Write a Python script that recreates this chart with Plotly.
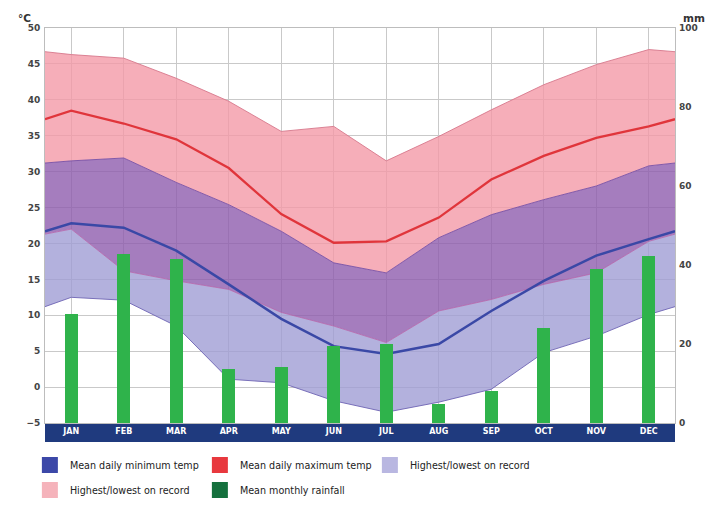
import plotly.graph_objects as go

# ---------------- data ----------------
months = ["JAN", "FEB", "MAR", "APR", "MAY", "JUN", "JUL", "AUG", "SEP", "OCT", "NOV", "DEC"]

max_record_high = [46.3, 45.8, 43.0, 39.8, 35.6, 36.3, 31.5, 34.9, 38.6, 42.1, 44.9, 47.0]
max_mean        = [38.5, 36.7, 34.5, 30.5, 24.1, 20.1, 20.3, 23.6, 28.9, 32.2, 34.7, 36.3]
max_record_low  = [22.0, 16.2, 14.8, 13.6, 10.4, 8.5, 6.2, 10.6, 12.2, 14.3, 15.9, 20.3]

min_record_high = [31.5, 31.9, 28.5, 25.4, 21.7, 17.3, 15.9, 20.8, 24.0, 26.1, 28.0, 30.8]
min_mean        = [22.8, 22.2, 19.0, 14.3, 9.5, 5.7, 4.6, 6.0, 10.6, 14.8, 18.3, 20.6]
min_record_low  = [12.5, 12.1, 8.5, 1.1, 0.6, -1.9, -3.5, -2.1, -0.3, 4.8, 7.1, 10.1]

rainfall_mm     = [27.7, 42.9, 41.4, 13.6, 14.1, 19.5, 20.0, 4.8, 8.2, 24.0, 38.9, 42.3]

# values read at the Dec/Jan boundary (left and right edges of the chart)
edge_max_record_high = 46.7
edge_max_mean = 37.3
edge_max_record_low = 21.3
edge_min_record_high = 31.2
edge_min_mean = 21.7
edge_min_record_low = 11.2

temp_ticks = list(range(-5, 51, 5))
rain_ticks = [0, 20, 40, 60, 80, 100]

legend_row1 = [("Mean daily minimum temp", "#3c48a8"),
               ("Mean daily maximum temp", "#e8383e"),
               ("Highest/lowest on record", "#b9b7e1")]
legend_row2 = [("Highest/lowest on record", "#f5b3bb"),
               ("Mean monthly rainfall", "#15703d")]

# ---------------- build ----------------
idx = list(range(len(months)))
x_ext = [idx[0] - 0.5] + idx + [idx[-1] + 0.5]


def ext(vals, edge):
    return [edge] + list(vals) + [edge]


FONT = "DejaVu Sans"
fig = go.Figure()

# stacked, non-overlapping band regions
fig.add_trace(go.Scatter(x=x_ext, y=ext(min_record_low, edge_min_record_low), mode="lines",
                         line=dict(color="rgba(110,100,180,0.9)", width=1),
                         showlegend=False, hoverinfo="skip"))
fig.add_trace(go.Scatter(x=x_ext, y=ext(max_record_low, edge_max_record_low), mode="lines",
                         fill="tonexty", fillcolor="rgba(160,158,212,0.80)",
                         line=dict(color="rgba(180,100,170,0.8)", width=1),
                         showlegend=False, hoverinfo="skip"))
fig.add_trace(go.Scatter(x=x_ext, y=ext(min_record_high, edge_min_record_high), mode="lines",
                         fill="tonexty", fillcolor="rgba(143,92,174,0.80)",
                         line=dict(color="rgba(120,80,165,0.9)", width=1),
                         showlegend=False, hoverinfo="skip"))
fig.add_trace(go.Scatter(x=x_ext, y=ext(max_record_high, edge_max_record_high), mode="lines",
                         fill="tonexty", fillcolor="rgba(244,154,167,0.80)",
                         line=dict(color="rgba(215,120,140,0.9)", width=1),
                         showlegend=False, hoverinfo="skip"))

# mean lines
fig.add_trace(go.Scatter(x=x_ext, y=ext(max_mean, edge_max_mean), mode="lines",
                         line=dict(color="#e0353b", width=2.3),
                         showlegend=False, hoverinfo="skip"))
fig.add_trace(go.Scatter(x=x_ext, y=ext(min_mean, edge_min_mean), mode="lines",
                         line=dict(color="#3a48a6", width=2.5),
                         showlegend=False, hoverinfo="skip"))

# rainfall bars
fig.add_trace(go.Bar(x=idx, y=rainfall_mm, yaxis="y2", width=0.24,
                     marker=dict(color="#2fb34b", line=dict(width=0)),
                     showlegend=False, hoverinfo="skip"))

# legend entries (two rows as two legends)
for lg, items in (("legend", legend_row1), ("legend2", legend_row2)):
    for name, col in items:
        fig.add_trace(go.Scatter(x=[None], y=[None], mode="markers", name=name, legend=lg,
                                 marker=dict(symbol="square", size=16, color=col,
                                             line=dict(width=0))))

legend_common = dict(orientation="h", xanchor="left", yanchor="top",
                     entrywidth=125, entrywidthmode="pixels", traceorder="normal",
                     font=dict(family=FONT, size=9.6, color="#222222"),
                     bgcolor="rgba(0,0,0,0)", itemclick=False, itemdoubleclick=False)

fig.update_layout(
    width=709, height=517,
    margin=dict(l=45, r=34, t=28, b=94),
    paper_bgcolor="white", plot_bgcolor="white",
    font=dict(family=FONT, color="#333333"),
    bargap=0,
    xaxis=dict(range=[-0.5, 11.5], tickvals=idx, ticktext=months,
               showgrid=True, gridcolor="#c9c9c9", gridwidth=1, zeroline=False,
               showline=True, mirror=True, linecolor="#bdbdbd",
               tickfont=dict(family=FONT, size=8, color="white", weight="bold"),
               ticks="", fixedrange=True),
    yaxis=dict(range=[-5, 50], tickvals=temp_ticks, showgrid=True,
               gridcolor="#c9c9c9", gridwidth=1, zeroline=False,
               showline=True, mirror=True, linecolor="#bdbdbd",
               tickfont=dict(family=FONT, size=9, color="#444444", weight="bold"),
               ticks="", ticklabelstandoff=2),
    yaxis2=dict(range=[0, 100], tickvals=rain_ticks, overlaying="y", side="right",
                showgrid=False, zeroline=False, showline=False,
                tickfont=dict(family=FONT, size=9, color="#444444", weight="bold"),
                ticks="", ticklabelstandoff=3),
    legend=dict(x=-0.024, y=-0.0696, **legend_common),
    legend2=dict(x=-0.024, y=-0.1329, **legend_common),
    shapes=[dict(type="rect", xref="paper", yref="paper", x0=0, x1=1, y0=-0.048, y1=0,
                 fillcolor="#1f3a7e", line=dict(width=0), layer="below")],
    annotations=[
        dict(text="<b>°C</b>", xref="paper", yref="paper", x=-0.032, y=1.005,
             xanchor="center", yanchor="bottom", showarrow=False,
             font=dict(family=FONT, size=10.5, color="#333333")),
        dict(text="<b>mm</b>", xref="paper", yref="paper", x=1.03, y=1.005,
             xanchor="center", yanchor="bottom", showarrow=False,
             font=dict(family=FONT, size=10.5, color="#333333")),
    ],
)

fig.write_html("out.html", config={"displayModeBar": False},
               post_script="document.body.style.margin='0';")
